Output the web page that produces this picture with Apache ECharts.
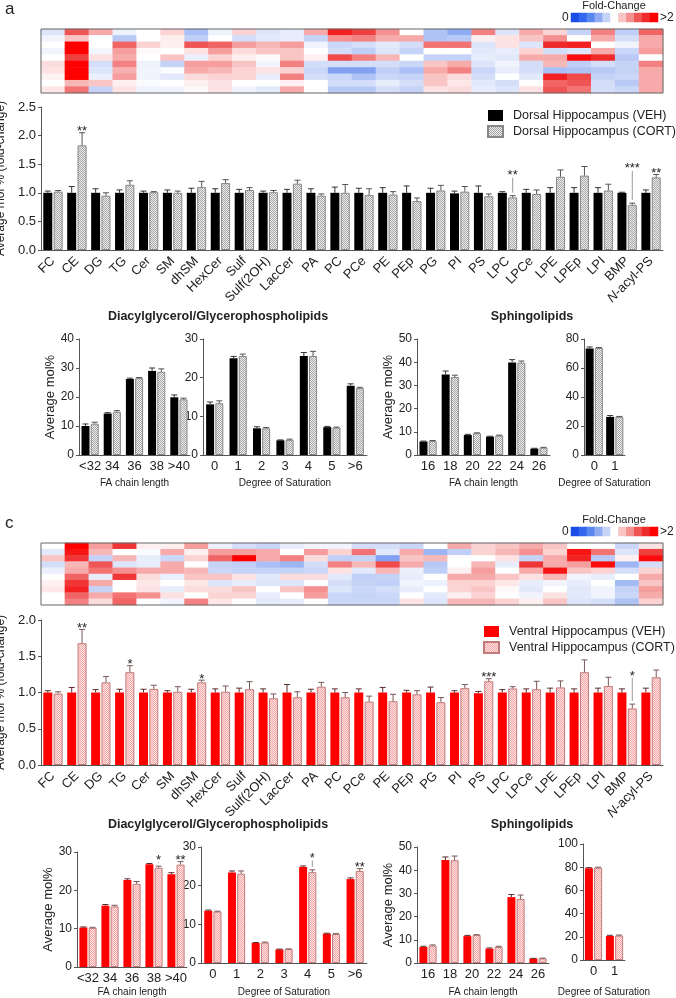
<!DOCTYPE html>
<html>
<head>
<meta charset="utf-8">
<script src="https://cdn.jsdelivr.net/npm/echarts@6/dist/echarts.min.js"></script>
<style>
html, body { margin: 0; padding: 0; background: #fff; }
#chart { width: 676px; height: 998px; }
</style>
</head>
<body>
<div id="chart"></div>
<script>
// ---------------- data ----------------
var lipidClasses = ['FC', 'CE', 'DG', 'TG', 'Cer', 'SM', 'dhSM', 'HexCer', 'Sulf', 'Sulf(2OH)', 'LacCer', 'PA', 'PC',
	'PCe', 'PE', 'PEp', 'PG', 'PI', 'PS', 'LPC', 'LPCe', 'LPE', 'LPEp', 'LPI', 'BMP', 'N-acyl-PS'];

// colour bar steps of the fold-change scale
var colorbarSteps = [0, 0.2, 0.4, 0.6, 0.8, 1.0, 1.2, 1.4, 1.6, 1.8, 2.0];

// heatmaps: one entry per lipid class, 10 animals each (fold-change)
var heatDorsal = [
	[0.88, 0.95, 1.0, 0.95, 1.0, 1.12, 1.1, 1.04, 1.0, 1.08],
	[1.6, 1.2, 2.0, 2.0, 1.7, 2.0, 2.0, 2.0, 1.25, 1.5],
	[1.3, 1.0, 1.0, 0.96, 1.1, 0.85, 0.88, 0.93, 1.2, 0.8],
	[0.94, 0.75, 1.55, 1.35, 1.3, 1.45, 1.28, 1.35, 1.05, 1.1],
	[1.0, 1.0, 1.15, 1.02, 1.0, 0.94, 0.95, 0.95, 0.98, 0.94],
	[1.15, 1.06, 1.05, 1.0, 1.2, 0.8, 0.98, 0.9, 1.0, 0.95],
	[0.7, 0.78, 1.6, 1.1, 0.93, 1.35, 1.3, 1.12, 1.05, 1.02],
	[0.94, 1.0, 1.55, 1.35, 1.15, 1.35, 1.25, 1.15, 1.1, 1.1],
	[1.15, 0.85, 1.35, 1.12, 1.05, 1.2, 1.15, 1.15, 1.0, 0.95],
	[0.88, 0.9, 1.25, 1.2, 1.02, 0.95, 1.1, 0.92, 1.0, 0.9],
	[0.92, 0.92, 1.35, 1.2, 1.2, 1.45, 1.15, 1.45, 1.05, 1.3],
	[1.3, 0.8, 0.95, 1.0, 1.05, 0.85, 0.82, 0.85, 1.0, 1.0],
	[1.85, 1.4, 0.82, 0.85, 1.65, 0.85, 0.55, 0.82, 0.85, 0.75],
	[1.7, 1.45, 0.85, 0.78, 1.45, 0.85, 0.55, 0.72, 0.85, 0.75],
	[1.4, 1.3, 0.9, 0.88, 1.25, 0.85, 0.78, 0.82, 0.92, 0.85],
	[1.0, 1.3, 0.85, 0.8, 1.0, 0.82, 0.7, 0.8, 0.85, 0.8],
	[0.72, 0.72, 1.5, 1.0, 0.8, 1.2, 1.3, 1.2, 1.2, 1.1],
	[0.6, 0.75, 1.5, 1.0, 0.8, 1.3, 1.45, 1.12, 1.08, 1.12],
	[1.45, 1.05, 0.88, 0.9, 0.92, 0.88, 0.82, 0.85, 0.9, 0.92],
	[0.88, 1.1, 1.1, 0.92, 0.9, 0.95, 0.92, 1.0, 0.85, 0.88],
	[1.3, 1.2, 0.88, 1.15, 1.3, 0.85, 0.85, 0.9, 1.0, 1.1],
	[1.15, 1.4, 1.8, 0.85, 1.3, 1.25, 0.7, 1.85, 1.55, 1.6],
	[0.8, 1.0, 1.85, 0.88, 1.95, 0.78, 0.72, 1.65, 1.6, 1.5],
	[1.45, 1.3, 1.0, 1.3, 1.8, 0.85, 0.75, 0.8, 0.85, 0.85],
	[0.78, 0.85, 0.95, 0.82, 0.75, 0.8, 0.8, 0.82, 0.75, 0.82],
	[1.55, 1.3, 1.3, 1.35, 1.0, 1.45, 1.3, 1.3, 1.3, 1.3]
];
var heatVentral = [
	[1.0, 0.9, 1.2, 0.85, 0.93, 1.0, 1.05, 1.08, 1.0, 1.0],
	[2.0, 1.9, 1.75, 1.25, 1.3, 1.55, 1.75, 1.85, 1.55, 1.45],
	[1.35, 1.25, 0.8, 1.6, 1.5, 0.92, 1.3, 0.8, 1.3, 1.12],
	[1.75, 1.0, 1.25, 0.88, 1.4, 1.75, 1.0, 1.0, 1.5, 1.55],
	[1.05, 0.98, 0.92, 0.92, 1.3, 1.12, 1.08, 1.1, 1.4, 1.0],
	[1.05, 1.3, 0.82, 1.3, 1.3, 0.93, 1.0, 0.92, 1.1, 0.95],
	[1.35, 1.05, 1.15, 1.0, 1.25, 1.2, 1.08, 1.12, 1.0, 1.45],
	[0.93, 1.35, 1.55, 0.8, 0.82, 1.2, 0.88, 1.12, 1.15, 1.08],
	[0.85, 1.35, 2.0, 0.78, 0.8, 1.1, 0.92, 1.2, 1.15, 1.0],
	[0.82, 1.3, 1.3, 0.7, 0.8, 0.9, 0.88, 1.0, 0.92, 0.9],
	[0.92, 1.0, 1.45, 0.65, 0.8, 1.12, 0.88, 1.2, 1.0, 0.92],
	[0.95, 1.35, 1.12, 0.85, 0.82, 1.12, 1.0, 1.4, 1.35, 1.0],
	[0.95, 1.15, 0.78, 1.45, 1.1, 0.9, 0.85, 0.88, 0.82, 0.82],
	[0.85, 1.5, 0.8, 1.25, 0.9, 0.78, 0.8, 0.82, 0.8, 0.82],
	[0.85, 0.9, 0.55, 1.65, 1.25, 0.8, 0.78, 0.85, 0.82, 0.82],
	[0.82, 1.3, 1.2, 1.3, 0.93, 0.92, 0.95, 0.92, 1.0, 1.1],
	[1.0, 0.65, 1.25, 0.75, 0.78, 1.0, 0.93, 1.0, 0.9, 0.88],
	[1.3, 0.78, 1.0, 1.0, 1.05, 1.3, 1.15, 1.15, 1.05, 1.25],
	[1.15, 1.15, 1.0, 1.25, 1.35, 1.3, 1.15, 1.2, 1.15, 1.25],
	[1.2, 1.25, 1.1, 0.92, 1.0, 1.2, 1.08, 1.02, 1.0, 1.15],
	[1.3, 1.4, 0.8, 1.75, 1.3, 1.1, 0.92, 0.9, 0.95, 1.05],
	[1.2, 1.15, 1.3, 1.3, 1.9, 1.25, 0.95, 1.0, 1.1, 1.2],
	[1.0, 1.9, 1.85, 1.35, 1.2, 0.95, 0.92, 0.9, 0.9, 0.88],
	[1.0, 1.5, 0.75, 1.95, 1.15, 0.92, 1.0, 0.95, 0.95, 0.85],
	[0.82, 0.88, 1.05, 0.65, 0.85, 1.0, 0.68, 0.8, 0.82, 0.72],
	[1.1, 1.7, 1.95, 0.85, 1.15, 1.3, 1.2, 1.35, 1.3, 1.15]
];

// class fold-change, mean and SEM
var dorsalVeh = [1, 1, 1, 1, 1, 1, 1, 1, 1, 1, 1, 1, 1, 1, 1, 1, 1, 0.99, 1, 1, 1, 1, 1, 1, 1, 1];
var dorsalVehSem = [0.03, 0.11, 0.07, 0.05, 0.03, 0.05, 0.08, 0.07, 0.06, 0.03, 0.06, 0.07, 0.10, 0.08, 0.09, 0.12, 0.08, 0.04, 0.12, 0.02, 0.06, 0.09, 0.09, 0.09, 0.01, 0.05];
var dorsalCort = [1.02, 1.83, 0.95, 1.14, 1.01, 1.0, 1.1, 1.17, 1.05, 1.01, 1.16, 0.95, 1.0, 0.96, 0.97, 0.855, 1.04, 1.02, 0.94, 0.92, 0.98, 1.28, 1.30, 1.04, 0.79, 1.27];
var dorsalCortSem = [0.02, 0.22, 0.05, 0.07, 0.01, 0.03, 0.1, 0.06, 0.04, 0.03, 0.06, 0.03, 0.145, 0.11, 0.05, 0.055, 0.09, 0.09, 0.04, 0.03, 0.07, 0.12, 0.16, 0.11, 0.03, 0.05];
var dorsalSig = ['', '**', '', '', '', '', '', '', '', '', '', '', '', '', '', '', '', '', '', '**', '', '', '', '', '***', '**'];
var dorsalSigAt = [null, null, null, null, null, null, null, null, null, null, null, null, null, null, null, null, null, null, null, 1.35, null, null, null, null, 1.47, null];

var ventralVeh = [1, 1, 1, 1, 1, 1, 1, 1, 1, 1, 1, 1, 1, 1, 1, 1, 1, 1, 0.99, 1, 1, 1, 1, 1, 1, 1];
var ventralVehSem = [0.025, 0.07, 0.04, 0.045, 0.045, 0.025, 0.045, 0.05, 0.06, 0.05, 0.11, 0.045, 0.05, 0.05, 0.07, 0.03, 0.075, 0.025, 0.025, 0.04, 0.05, 0.06, 0.05, 0.06, 0.05, 0.06];
var ventralCort = [0.985, 1.68, 1.14, 1.28, 1.05, 1.01, 1.14, 1.01, 1.045, 0.92, 0.935, 1.08, 0.935, 0.875, 0.88, 0.975, 0.865, 1.06, 1.155, 1.055, 1.045, 1.07, 1.28, 1.09, 0.78, 1.21];
var ventralCortSem = [0.025, 0.19, 0.08, 0.09, 0.05, 0.07, 0.03, 0.08, 0.105, 0.06, 0.075, 0.06, 0.065, 0.075, 0.095, 0.05, 0.065, 0.05, 0.035, 0.025, 0.11, 0.09, 0.17, 0.12, 0.06, 0.1];
var ventralSig = ['', '**', '', '*', '', '', '*', '', '', '', '', '', '', '', '', '', '', '', '***', '', '', '', '', '', '*', ''];
var ventralSigAt = [null, null, null, null, null, null, null, null, null, null, null, null, null, null, null, null, null, null, null, null, null, null, null, null, 1.27, null];

// acyl chain composition (average mol%)
var dagChainCats = ['<32', '34', '36', '38', '>40'];
var satCats = ['0', '1', '2', '3', '4', '5', '>6'];
var sphChainCats = ['16', '18', '20', '22', '24', '26'];
var sphSatCats = ['0', '1'];

var dorsalDagChainVeh = [10.0, 14.3, 26.2, 29.0, 19.9];
var dorsalDagChainVehSem = [0.7, 0.3, 0.3, 1.0, 0.8];
var dorsalDagChainCort = [10.8, 14.9, 26.5, 28.7, 19.2];
var dorsalDagChainCortSem = [0.5, 0.4, 0.2, 1.0, 0.4];
var dorsalDagSatVeh = [13.1, 25.0, 6.9, 3.8, 25.6, 7.2, 17.9];
var dorsalDagSatVehSem = [0.6, 0.5, 0.4, 0.1, 0.9, 0.2, 0.5];
var dorsalDagSatCort = [13.4, 25.6, 6.9, 3.9, 25.6, 7.1, 17.3];
var dorsalDagSatCortSem = [0.6, 0.5, 0.2, 0.2, 1.2, 0.1, 0.2];
var dorsalSphChainVeh = [5.8, 34.7, 8.6, 7.9, 39.9, 2.7];
var dorsalSphChainVehSem = [0.2, 1.5, 0.3, 0.2, 1.2, 0.2];
var dorsalSphChainCort = [6.05, 33.6, 9.4, 8.4, 39.8, 3.2];
var dorsalSphChainCortSem = [0.2, 0.8, 0.15, 0.15, 0.7, 0.1];
var dorsalSphSatVeh = [73.5, 26.3];
var dorsalSphSatVehSem = [1.0, 0.9];
var dorsalSphSatCort = [73.8, 26.3];
var dorsalSphSatCortSem = [0.3, 0.3];

var ventralDagChainVeh = [10.3, 16.0, 22.7, 26.8, 24.2];
var ventralDagChainVehSem = [0.15, 0.3, 0.3, 0.2, 0.4];
var ventralDagChainCort = [10.2, 15.8, 21.7, 25.9, 26.7];
var ventralDagChainCortSem = [0.15, 0.3, 0.6, 0.4, 0.8];
var ventralDagChainSig = ['', '', '', '*', '**'];
var ventralDagChainSigAt = [null, null, null, 28.6, null];
var ventralDagSatVeh = [13.5, 23.4, 5.2, 3.5, 24.8, 7.6, 21.7];
var ventralDagSatVehSem = [0.2, 0.4, 0.1, 0.1, 0.3, 0.1, 0.3];
var ventralDagSatCort = [13.3, 23.1, 5.3, 3.6, 23.5, 7.5, 23.8];
var ventralDagSatCortSem = [0.1, 0.7, 0.1, 0.05, 0.6, 0.1, 0.6];
var ventralDagSatSig = ['', '', '', '', '*', '', '**'];
var ventralDagSatSigAt = [null, null, null, null, 27.8, null, null];
var ventralSphChainVeh = [6.9, 44.4, 11.6, 6.2, 28.4, 1.9];
var ventralSphChainVehSem = [0.3, 1.3, 0.3, 0.3, 1.1, 0.1];
var ventralSphChainCort = [7.5, 44.3, 12.1, 6.9, 27.6, 2.0];
var ventralSphChainCortSem = [0.3, 1.8, 0.1, 0.3, 1.7, 0.1];
var ventralSphSatVeh = [79.0, 20.7];
var ventralSphSatVehSem = [0.6, 0.6];
var ventralSphSatCort = [79.5, 21.0];
var ventralSphSatCortSem = [0.5, 0.5];

// ---------------- styling helpers ----------------
var FONT = '"Liberation Sans", Arial, sans-serif';
var INK = '#222';
var AXIS = '#555';
var BAR_GAP = 0.15;

function pattern(base, dot) {
	var cv = document.createElement('canvas');
	cv.width = 2; cv.height = 2;
	var ctx = cv.getContext('2d');
	ctx.fillStyle = base; ctx.fillRect(0, 0, 2, 2);
	ctx.fillStyle = dot; ctx.fillRect(0, 0, 1, 1); ctx.fillRect(1, 1, 1, 1);
	return { image: cv, repeat: 'repeat' };
}

var dorsalVehStyle = { color: '#000' };
var dorsalCortStyle = { color: pattern('#eeeeee', '#a6a6a6'), borderColor: '#888', borderWidth: 1 };
var ventralVehStyle = { color: '#ff0000' };
var ventralCortStyle = { color: pattern('#fde6e6', '#f2a4a4'), borderColor: '#c27a7a', borderWidth: 1 };

var grid = [], xAxis = [], yAxis = [], series = [], title = [], heatIdx = [];

function text(t, left, top, size, extra) {
	var o = { text: t, left: left, top: top, padding: 0,
		textStyle: { fontSize: size, color: INK, fontFamily: FONT, fontWeight: 'normal' } };
	for (var k in extra) o[k] = extra[k];
	title.push(o);
	return o;
}

function addHeatmap(box, cols) {
	var gi = grid.length;
	grid.push({ left: box.left, top: box.top, width: box.width, height: box.height, show: true, z: 5,
		borderColor: '#666', borderWidth: 1, backgroundColor: 'transparent', outerBoundsMode: 'none' });
	var rows = cols[0].map(function (v, r) { return 'r' + r; });
	xAxis.push({ gridIndex: gi, type: 'category', data: lipidClasses, show: false });
	yAxis.push({ gridIndex: gi, type: 'category', data: rows, show: false, inverse: true });
	var data = [];
	cols.forEach(function (col, c) {
		col.forEach(function (v, r) { data.push([c, r, v]); });
	});
	heatIdx.push(series.length);
	series.push({ type: 'heatmap', xAxisIndex: gi, yAxisIndex: gi, data: data, silent: true,
		itemStyle: { borderWidth: 0 }, emphasis: { disabled: true } });
}

function addColorbar(left, top) {
	var gi = grid.length;
	grid.push({ left: left, top: top, width: 87, height: 9, show: false, outerBoundsMode: 'none' });
	xAxis.push({ gridIndex: gi, type: 'category', data: colorbarSteps.map(String), show: false });
	yAxis.push({ gridIndex: gi, type: 'category', data: ['fc'], show: false });
	heatIdx.push(series.length);
	series.push({ type: 'heatmap', xAxisIndex: gi, yAxisIndex: gi, silent: true,
		data: colorbarSteps.map(function (v, i) { return [i, 0, v]; }),
		itemStyle: { borderWidth: 0 }, emphasis: { disabled: true } });
	text('0', left - 9, top - 1, 12);
	text('>2', left + 89, top - 1, 12);
	text('Fold-Change', left + 43, top - 13, 11, { textAlign: 'center' });
}

function errorSeries(gi, vals, sems, side, barW, color, sig, sigAt) {
	var cap = 3;
	return {
		type: 'custom', xAxisIndex: gi, yAxisIndex: gi, silent: true, z: 5, clip: false,
		data: vals.map(function (v, i) { return [i, v, v + sems[i]]; }),
		renderItem: function (params, api) {
			var i = params.dataIndex;
			var base = api.coord([api.value(0), api.value(1)]);
			var top = api.coord([api.value(0), api.value(2)]);
			var x = base[0] + side * barW * (1 + BAR_GAP) / 2;
			var kids = [
				{ type: 'line', shape: { x1: x, y1: base[1], x2: x, y2: top[1] }, style: { stroke: color, lineWidth: 1 } },
				{ type: 'line', shape: { x1: x - cap, y1: top[1], x2: x + cap, y2: top[1] }, style: { stroke: color, lineWidth: 1 } }
			];
			if (sig && sig[i]) {
				var ty = top[1] - 4;
				if (sigAt && sigAt[i] != null) {
					ty = api.coord([i, sigAt[i]])[1];
					kids.push({ type: 'line', shape: { x1: x, y1: ty + 5, x2: x, y2: top[1] - 3 },
						style: { stroke: '#999', lineWidth: 1 } });
				}
				kids.push({ type: 'text', style: { text: sig[i], x: x, y: ty + 3, align: 'center', verticalAlign: 'middle',
					fontSize: 13, fontFamily: FONT, fill: INK } });
			}
			return { type: 'group', children: kids };
		}
	};
}

function addBarPanel(p) {
	var gi = grid.length;
	grid.push({ left: p.left, top: p.top, width: p.width, height: p.height, outerBoundsMode: 'none' });
	xAxis.push({
		gridIndex: gi, type: 'category', data: p.cats,
		axisLine: { lineStyle: { color: AXIS, width: 1 } }, axisTick: { show: false },
		axisLabel: {
			color: INK, fontFamily: FONT, fontSize: p.xFont, rotate: p.rotate || 0, margin: p.xMargin, interval: 0,
			formatter: function (v) { return v === 'N-acyl-PS' ? '{i|N}-acyl-PS' : v; },
			rich: { i: { fontStyle: 'italic', fontSize: p.xFont, fontFamily: FONT, color: INK } }
		},
		name: p.xName || '', nameLocation: 'middle', nameGap: p.xNameGap || 20,
		nameTextStyle: { color: INK, fontFamily: FONT, fontSize: 10 }
	});
	yAxis.push({
		gridIndex: gi, type: 'value', min: p.min, max: p.max, interval: p.interval,
		axisLine: { show: true, lineStyle: { color: AXIS, width: 1 } },
		axisTick: { show: true, length: 3, lineStyle: { color: AXIS } },
		splitLine: { show: false },
		axisLabel: { color: INK, fontFamily: FONT, fontSize: p.yFont, margin: 5,
			formatter: p.yFmt || function (v) { return String(v); } },
		name: p.yName || '', nameLocation: 'middle', nameGap: p.yNameGap || 25,
		nameTextStyle: { color: INK, fontFamily: FONT, fontSize: p.yNameFont || 13 }
	});
	series.push({ type: 'bar', name: p.vehName, xAxisIndex: gi, yAxisIndex: gi, data: p.veh, silent: true,
		barWidth: p.barW, barGap: (BAR_GAP * 100) + '%', itemStyle: p.vehStyle });
	series.push({ type: 'bar', name: p.cortName, xAxisIndex: gi, yAxisIndex: gi, data: p.cort, silent: true,
		barWidth: p.barW, barGap: (BAR_GAP * 100) + '%', itemStyle: p.cortStyle });
	series.push(errorSeries(gi, p.veh, p.vehSem, -1, p.barW, p.errVeh, null, null));
	series.push(errorSeries(gi, p.cort, p.cortSem, 1, p.barW, p.errCort, p.sig, p.sigAt));
}

function oneDecimal(v) { return v.toFixed(1); }

// ---------------- panel a (dorsal) ----------------
text('a', 5, 1, 17);
addColorbar(571, 13);
addHeatmap({ left: 41, top: 29, width: 622, height: 64 }, heatDorsal);
addBarPanel({
	left: 41, top: 107, width: 622, height: 143, cats: lipidClasses, min: 0, max: 2.5, interval: 0.5,
	veh: dorsalVeh, vehSem: dorsalVehSem, cort: dorsalCort, cortSem: dorsalCortSem,
	vehName: 'Dorsal Hippocampus (VEH)', cortName: 'Dorsal Hippocampus (CORT)',
	vehStyle: dorsalVehStyle, cortStyle: dorsalCortStyle, errVeh: '#333', errCort: '#555',
	sig: dorsalSig, sigAt: dorsalSigAt, barW: 9, rotate: 45, xFont: 13, xMargin: 9, yFont: 13, yFmt: oneDecimal,
	yName: 'Average mol % (fold-change)', yNameGap: 25, yNameFont: 12
});
text('Diacylglycerol/Glycerophospholipids', 218, 310, 12.5, { textAlign: 'center' }).textStyle.fontWeight = 'bold';
text('Sphingolipids', 532, 310, 12.5, { textAlign: 'center' }).textStyle.fontWeight = 'bold';
var smallA = [
	{ left: 79, width: 111, cats: dagChainCats, max: 40, interval: 10, veh: dorsalDagChainVeh, vehSem: dorsalDagChainVehSem,
		cort: dorsalDagChainCort, cortSem: dorsalDagChainCortSem, yName: 'Average mol%', xName: 'FA chain length' },
	{ left: 203, width: 164, cats: satCats, max: 30, interval: 10, veh: dorsalDagSatVeh, vehSem: dorsalDagSatVehSem,
		cort: dorsalDagSatCort, cortSem: dorsalDagSatCortSem, xName: 'Degree of Saturation' },
	{ left: 417, width: 133, cats: sphChainCats, max: 50, interval: 10, veh: dorsalSphChainVeh, vehSem: dorsalSphChainVehSem,
		cort: dorsalSphChainCort, cortSem: dorsalSphChainCortSem, yName: 'Average mol%', xName: 'FA chain length' },
	{ left: 584, width: 41, cats: sphSatCats, max: 80, interval: 20, veh: dorsalSphSatVeh, vehSem: dorsalSphSatVehSem,
		cort: dorsalSphSatCort, cortSem: dorsalSphSatCortSem, xName: 'Degree of Saturation' }
];
smallA.forEach(function (p, k) {
	p.top = 339; p.height = 116; p.min = 0; p.barW = 8;
	p.vehName = 'dorsal-veh-' + k; p.cortName = 'dorsal-cort-' + k;
	p.vehStyle = dorsalVehStyle; p.cortStyle = dorsalCortStyle; p.errVeh = '#333'; p.errCort = '#555';
	p.xFont = 13; p.xMargin = 5; p.yFont = 12; p.yNameGap = 22; p.xNameGap = 23;
	addBarPanel(p);
});

// ---------------- panel c (ventral) ----------------
text('c', 5, 515, 17);
addColorbar(571, 527);
addHeatmap({ left: 41, top: 543, width: 622, height: 62 }, heatVentral);
addBarPanel({
	left: 41, top: 620, width: 622, height: 145, cats: lipidClasses, min: 0, max: 2.0, interval: 0.5,
	veh: ventralVeh, vehSem: ventralVehSem, cort: ventralCort, cortSem: ventralCortSem,
	vehName: 'Ventral Hippocampus (VEH)', cortName: 'Ventral Hippocampus (CORT)',
	vehStyle: ventralVehStyle, cortStyle: ventralCortStyle, errVeh: '#5a2a2a', errCort: '#7a5a5a',
	sig: ventralSig, sigAt: ventralSigAt, barW: 9, rotate: 45, xFont: 13, xMargin: 9, yFont: 13, yFmt: oneDecimal,
	yName: 'Average mol % (fold-change)', yNameGap: 25, yNameFont: 12
});
text('Diacylglycerol/Glycerophospholipids', 218, 818, 12.5, { textAlign: 'center' }).textStyle.fontWeight = 'bold';
text('Sphingolipids', 532, 818, 12.5, { textAlign: 'center' }).textStyle.fontWeight = 'bold';
var smallC = [
	{ left: 77, top: 852, height: 115, width: 110, cats: dagChainCats, max: 30, interval: 10, veh: ventralDagChainVeh,
		vehSem: ventralDagChainVehSem, cort: ventralDagChainCort, cortSem: ventralDagChainCortSem,
		sig: ventralDagChainSig, sigAt: ventralDagChainSigAt, yName: 'Average mol%', xName: 'FA chain length' },
	{ left: 201, top: 847, height: 116, width: 166, cats: satCats, max: 30, interval: 10, veh: ventralDagSatVeh,
		vehSem: ventralDagSatVehSem, cort: ventralDagSatCort, cortSem: ventralDagSatCortSem,
		sig: ventralDagSatSig, sigAt: ventralDagSatSigAt, xName: 'Degree of Saturation' },
	{ left: 417, top: 847, height: 116, width: 132, cats: sphChainCats, max: 50, interval: 10, veh: ventralSphChainVeh,
		vehSem: ventralSphChainVehSem, cort: ventralSphChainCort, cortSem: ventralSphChainCortSem,
		yName: 'Average mol%', xName: 'FA chain length' },
	{ left: 583, top: 844, height: 116, width: 42, cats: sphSatCats, max: 100, interval: 20, veh: ventralSphSatVeh,
		vehSem: ventralSphSatVehSem, cort: ventralSphSatCort, cortSem: ventralSphSatCortSem, xName: 'Degree of Saturation' }
];
smallC.forEach(function (p, k) {
	p.min = 0; p.barW = 8;
	p.vehName = 'ventral-veh-' + k; p.cortName = 'ventral-cort-' + k;
	p.vehStyle = ventralVehStyle; p.cortStyle = ventralCortStyle; p.errVeh = '#5a2a2a'; p.errCort = '#7a5a5a';
	p.xFont = 13; p.xMargin = 5; p.yFont = 12; p.yNameGap = 22; p.xNameGap = 20 + (967 - p.top - p.height);
	addBarPanel(p);
});

var legendBase = { orient: 'vertical', itemWidth: 15, itemHeight: 11, itemGap: 3, padding: 0, icon: 'rect',
	selectedMode: false, textStyle: { fontSize: 12.5, color: INK, fontFamily: FONT, padding: [0, 0, 0, 5] } };
var legends = [
	Object.assign({ left: 487, top: 109, data: ['Dorsal Hippocampus (VEH)', 'Dorsal Hippocampus (CORT)'] }, legendBase),
	Object.assign({ left: 483, top: 625, data: ['Ventral Hippocampus (VEH)', 'Ventral Hippocampus (CORT)'] }, legendBase)
];

var chart = echarts.init(document.getElementById('chart'));
chart.setOption({
	animation: false,
	backgroundColor: '#fff',
	title: title,
	legend: legends,
	grid: grid,
	xAxis: xAxis,
	yAxis: yAxis,
	visualMap: {
		type: 'continuous', show: false, min: 0, max: 2, seriesIndex: heatIdx, dimension: 2,
		inRange: { color: ['#1a4de6', '#3366ee', '#5a87ef', '#8fabf2', '#c5d3f7', '#ffffff',
			'#f9c4c4', '#f59090', '#f05555', '#ee2a2a', '#ff0000'] }
	},
	series: series
});
</script>
</body>
</html>
